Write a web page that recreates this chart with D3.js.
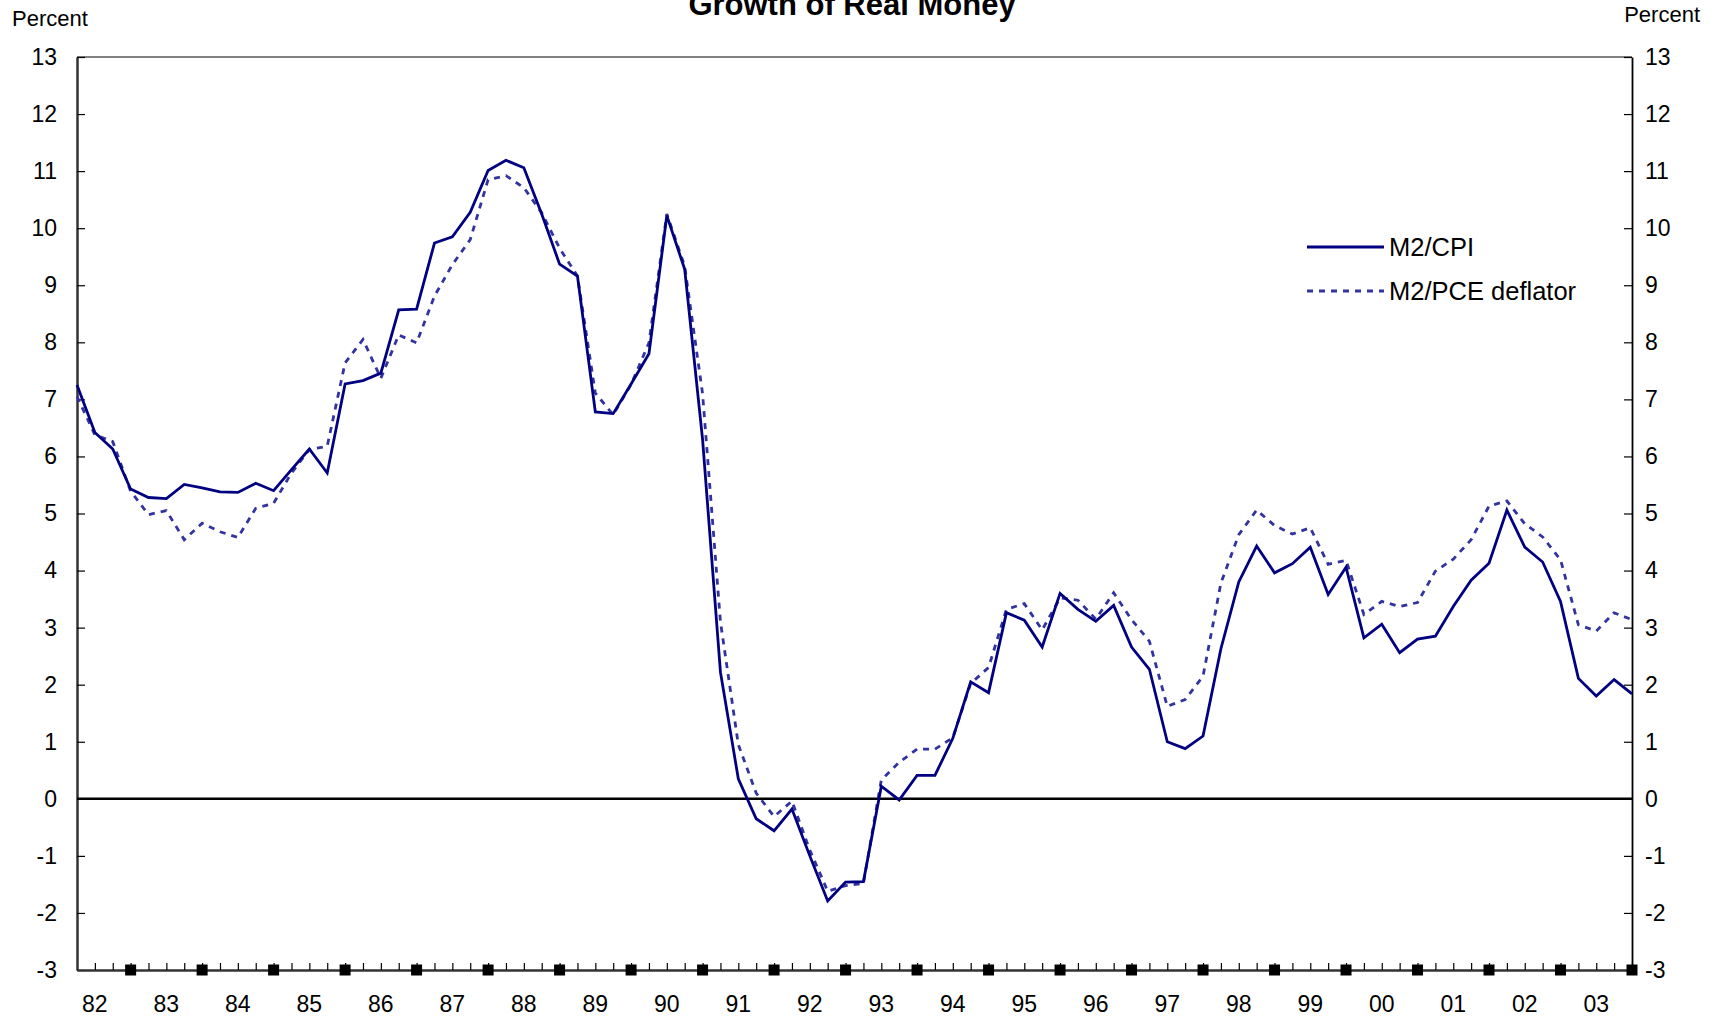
<!DOCTYPE html>
<html>
<head>
<meta charset="utf-8">
<script src="https://cdn.jsdelivr.net/npm/d3@7"></script>
<style>
  html, body { margin: 0; padding: 0; background: #fff; }
  svg { display: block; font-family: Arial, "Liberation Sans", sans-serif; }
</style>
</head>
<body>
<svg id="chart" width="1715" height="1020"></svg>
<script>
// Quarterly observations, 1982Q1 .. 2003Q4 (percent change from a year earlier)
const yearLabels = ['82', '83', '84', '85', '86', '87', '88', '89', '90', '91', '92',
                    '93', '94', '95', '96', '97', '98', '99', '00', '01', '02', '03'];

const m2Cpi = [
  7.25, 6.42, 6.13, 5.43, 5.28, 5.26, 5.51, 5.45, 5.38, 5.37, 5.53, 5.40,
  5.77, 6.13, 5.71, 7.27, 7.33, 7.46, 8.57, 8.58, 9.74, 9.85, 10.28, 11.01,
  11.19, 11.06, 10.25, 9.37, 9.16, 6.78, 6.75, 7.27, 7.80, 10.22, 9.28, 6.30,
  2.22, 0.35, -0.35, -0.56, -0.18, -1.00, -1.79, -1.46, -1.45, 0.22, -0.02, 0.41,
  0.41, 1.06, 2.05, 1.86, 3.26, 3.13, 2.66, 3.60, 3.32, 3.11, 3.39, 2.66,
  2.27, 1.00, 0.88, 1.10, 2.63, 3.80, 4.43, 3.96, 4.12, 4.41, 3.58, 4.06,
  2.82, 3.06, 2.56, 2.80, 2.85, 3.37, 3.83, 4.13, 5.06, 4.41, 4.15, 3.46,
  2.11, 1.80, 2.09, 1.84
];

const m2Pce = [
  7.05, 6.38, 6.26, 5.39, 4.98, 5.05, 4.54, 4.83, 4.68, 4.58, 5.09, 5.18,
  5.71, 6.12, 6.18, 7.64, 8.05, 7.37, 8.13, 7.99, 8.81, 9.36, 9.80, 10.85,
  10.92, 10.71, 10.27, 9.65, 9.16, 7.11, 6.73, 7.26, 7.99, 10.25, 9.33, 7.10,
  3.10, 0.95, 0.10, -0.31, -0.04, -0.90, -1.62, -1.52, -1.48, 0.33, 0.64, 0.87,
  0.87, 1.07, 2.02, 2.30, 3.32, 3.42, 2.96, 3.52, 3.48, 3.15, 3.61, 3.14,
  2.76, 1.62, 1.74, 2.15, 3.78, 4.63, 5.06, 4.79, 4.64, 4.75, 4.11, 4.18,
  3.23, 3.46, 3.37, 3.44, 3.99, 4.20, 4.54, 5.13, 5.22, 4.82, 4.59, 4.19,
  3.05, 2.94, 3.26, 3.14
];

const seriesNames = ['M2/CPI', 'M2/PCE deflator'];
const yTicks = d3.range(-3, 14);

const plot = { left: 77, right: 1632, top: 57, bottom: 970 };
const firstYear = 1982;

// time of each observation: points sit on the quarter tick marks
const quarterTime = i => firstYear + 0.25 + i * 0.25;

const x = d3.scaleLinear()
  .domain([firstYear + 0.25, firstYear + yearLabels.length])
  .range([plot.left, plot.right]);

const y = d3.scaleLinear()
  .domain([-3, 13])
  .range([plot.bottom, plot.top]);

const svg = d3.select('#chart');

// title (its top runs off the page, as in the original)
svg.append('text')
  .attr('x', 852)
  .attr('y', 15)
  .attr('text-anchor', 'middle')
  .attr('font-size', '31px')
  .attr('font-weight', 'bold')
  .attr('fill', '#000')
  .text('Growth of Real Money');

svg.append('text')
  .attr('x', 12).attr('y', 26)
  .attr('font-size', '22px')
  .text('Percent');

svg.append('text')
  .attr('x', 1700).attr('y', 22)
  .attr('text-anchor', 'end')
  .attr('font-size', '22px')
  .text('Percent');

// top border
svg.append('line')
  .attr('x1', plot.left).attr('x2', plot.right)
  .attr('y1', plot.top).attr('y2', plot.top)
  .attr('stroke', '#808080')
  .attr('stroke-width', 2);

// plain hyphen for negatives, like the original
const fmt = d => String(d);

// left axis
const leftAxis = svg.append('g')
  .attr('transform', `translate(${plot.left},0)`)
  .call(d3.axisLeft(y).tickValues(yTicks).tickFormat(fmt).tickSize(-8).tickPadding(20).tickSizeOuter(0));

// right axis
const rightAxis = svg.append('g')
  .attr('transform', `translate(${plot.right},0)`)
  .call(d3.axisRight(y).tickValues(yTicks).tickFormat(fmt).tickSize(-8).tickPadding(13).tickSizeOuter(0));

[leftAxis, rightAxis].forEach(g => {
  g.selectAll('text')
    .attr('font-size', '23px')
    .attr('font-family', 'Arial, "Liberation Sans", sans-serif')
    .attr('fill', '#000');
  g.selectAll('.tick line').attr('stroke', '#000').attr('stroke-width', 1.2);
});
leftAxis.select('.domain').attr('stroke', '#333').attr('stroke-width', 2.5);
rightAxis.select('.domain').attr('stroke', '#000').attr('stroke-width', 1.8);

// bottom axis: quarterly minor ticks, year-end squares, year labels in between
const quarterTicks = d3.range(firstYear + 0.5, firstYear + yearLabels.length + 0.01, 0.25);
const bottomAxis = svg.append('g')
  .attr('transform', `translate(0,${plot.bottom})`)
  .call(d3.axisBottom(x).tickValues(quarterTicks).tickSize(-7).tickSizeOuter(0).tickFormat(''));
bottomAxis.select('.domain').attr('stroke', '#333').attr('stroke-width', 2.5);
bottomAxis.selectAll('.tick line').attr('stroke', '#000').attr('stroke-width', 1.2);

const yearEnds = d3.range(1, yearLabels.length + 1).map(k => firstYear + k);
svg.append('g')
  .selectAll('rect')
  .data(yearEnds)
  .join('rect')
  .attr('x', d => x(d) - 5.5)
  .attr('y', plot.bottom - 5.5)
  .attr('width', 11)
  .attr('height', 11)
  .attr('fill', '#000');

svg.append('g')
  .selectAll('text')
  .data(yearLabels)
  .join('text')
  .attr('x', (d, i) => x(firstYear + i + 0.5))
  .attr('y', 1012)
  .attr('text-anchor', 'middle')
  .attr('font-size', '23px')
  .attr('fill', '#000')
  .text(d => d);

// zero line
svg.append('line')
  .attr('x1', plot.left).attr('x2', plot.right)
  .attr('y1', y(0)).attr('y2', y(0))
  .attr('stroke', '#000')
  .attr('stroke-width', 2.5);

// series
const line = d3.line()
  .x((d, i) => x(quarterTime(i)))
  .y(d => y(d));

svg.append('path')
  .datum(m2Pce)
  .attr('d', line)
  .attr('fill', 'none')
  .attr('stroke', '#3333A0')
  .attr('stroke-width', 2.8)
  .attr('stroke-dasharray', '6,6');

svg.append('path')
  .datum(m2Cpi)
  .attr('d', line)
  .attr('fill', 'none')
  .attr('stroke', '#000080')
  .attr('stroke-width', 2.8)
  .attr('stroke-linejoin', 'miter');

// legend
const legend = svg.append('g').attr('transform', 'translate(1307,0)');
const legendRows = [
  { name: seriesNames[0], y: 247, stroke: '#000080', dash: null },
  { name: seriesNames[1], y: 291, stroke: '#3333A0', dash: '6,6' }
];
legendRows.forEach(r => {
  legend.append('line')
    .attr('x1', 0).attr('x2', 77)
    .attr('y1', r.y).attr('y2', r.y)
    .attr('stroke', r.stroke)
    .attr('stroke-width', 2.8)
    .attr('stroke-dasharray', r.dash);
  legend.append('text')
    .attr('x', 82)
    .attr('y', r.y + 9)
    .attr('font-size', '25.5px')
    .attr('fill', '#000')
    .text(r.name);
});
</script>
</body>
</html>
